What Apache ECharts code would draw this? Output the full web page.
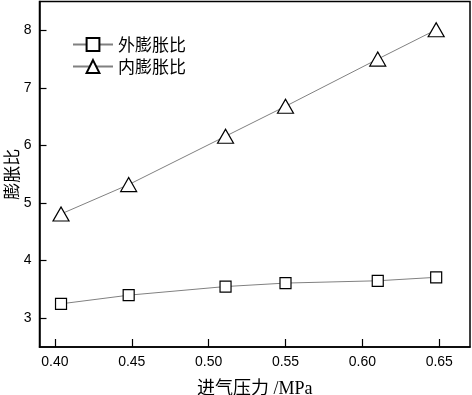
<!DOCTYPE html>
<html><head><meta charset="utf-8">
<script src="https://cdn.jsdelivr.net/npm/echarts@6/dist/echarts.min.js"></script>
<style>html,body{margin:0;padding:0;background:#fff}#c{width:472px;height:395px}</style>
</head><body><div id="c"></div>
<script>
const pressure = [0.404, 0.448, 0.511, 0.550, 0.610, 0.648];
const outerRatio = [3.25, 3.40, 3.55, 3.61, 3.65, 3.71];
const innerRatio = [4.81, 5.32, 6.16, 6.68, 7.50, 8.01];
const xTicks = [0.40, 0.45, 0.50, 0.55, 0.60, 0.65];
const yTicks = [3, 4, 5, 6, 7, 8];
const seriesNames = ['外膨胀比', '内膨胀比'];
const xTitle = '进气压力 /MPa';
const yTitle = '膨胀比';

const chart = echarts.init(document.getElementById('c'));
const lbl = {color:'#000', fontFamily:'Liberation Sans, Arial', fontSize:14};
chart.setOption({
  animation:false,
  grid:{left:39.5, right:2, top:1.5, bottom:48, containLabel:false, outerBoundsMode:'none',
    show:true, borderColor:'#000', borderWidth:1.5},
  legend:{left:67, top:31, orient:'vertical', itemWidth:40, itemHeight:16, itemGap:5,
    textStyle:{color:'#000', fontSize:17, fontFamily:'Noto Sans CJK SC'},
    data:seriesNames},
  xAxis:{type:'value', min:0.39, max:0.67,
    name:xTitle, nameLocation:'middle', nameGap:33, nameMoveOverlap:false,
    nameTextStyle:{color:'#000', fontSize:18, fontFamily:'Liberation Serif, Noto Sans CJK SC'},
    axisLine:{lineStyle:{color:'#000', width:1.5}},
    axisTick:{inside:true, length:8, lineStyle:{color:'#000', width:1.2}, customValues:xTicks},
    axisLabel:Object.assign({margin:8, customValues:xTicks, formatter:v=>v.toFixed(2)}, lbl),
    splitLine:{show:false}},
  yAxis:{type:'value', min:2.5, max:8.5,
    name:yTitle, nameLocation:'middle', nameGap:19, nameRotate:90, nameMoveOverlap:false,
    nameTextStyle:{color:'#000', fontSize:17, fontFamily:'Noto Sans CJK SC'},
    axisLine:{show:true, lineStyle:{color:'#000', width:1.5}},
    axisTick:{show:true, inside:true, length:7, lineStyle:{color:'#000', width:1.2}, customValues:yTicks},
    axisLabel:Object.assign({margin:8, customValues:yTicks}, lbl),
    splitLine:{show:false}},
  series:[
    {name:seriesNames[0], type:'line', data:pressure.map((x,i)=>[x,outerRatio[i]]),
      symbol:'rect', symbolSize:11, showAllSymbol:true,
      lineStyle:{color:'#808080', width:1},
      itemStyle:{color:'#fff', borderColor:'#000', borderWidth:1.2}},
    {name:seriesNames[1], type:'line', data:pressure.map((x,i)=>[x,innerRatio[i]]),
      symbol:'triangle', symbolSize:[16,14], showAllSymbol:true,
      lineStyle:{color:'#808080', width:1},
      itemStyle:{color:'#fff', borderColor:'#000', borderWidth:1.2}}
  ]
});
</script></body></html>
